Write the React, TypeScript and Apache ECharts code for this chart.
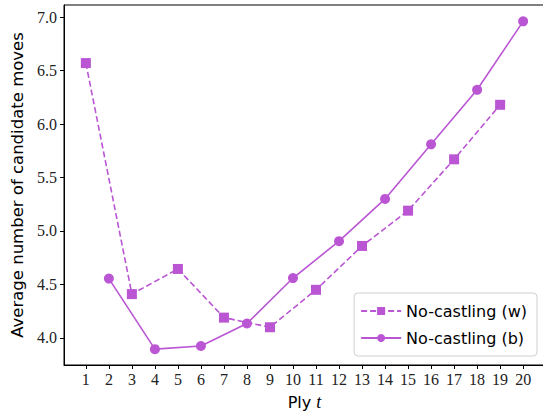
import React, { useEffect, useRef } from "react";
import * as echarts from "echarts";

const plyTicks = [1, 2, 3, 4, 5, 6, 7, 8, 9, 10, 11, 12, 13, 14, 15, 16, 17, 18, 19, 20];
const yTicks = [4.0, 4.5, 5.0, 5.5, 6.0, 6.5, 7.0];
const whitePly = [1, 3, 5, 7, 9, 11, 13, 15, 17, 19];
const whiteValues = [6.57, 4.41, 4.645, 4.19, 4.10, 4.45, 4.86, 5.19, 5.67, 6.18];
const blackPly = [2, 4, 6, 8, 10, 12, 14, 16, 18, 20];
const blackValues = [4.555, 3.895, 3.925, 4.135, 4.56, 4.905, 5.30, 5.81, 6.32, 6.96];

const COLOR = "#BA55D3";

export default function App() {
  const ref = useRef<HTMLDivElement>(null);
  useEffect(() => {
    if (!ref.current) return;
    const chart = echarts.init(ref.current, null, { renderer: "svg" });
    const serif = "Liberation Serif";
    chart.setOption({
      animation: false,
      backgroundColor: "#fff",
      grid: {
        left: 64,
        top: 5,
        right: -2,
        bottom: 52,
        outerBoundsMode: "none",
        containLabel: false,
        show: true,
        borderColor: "#000",
        borderWidth: 1,
        backgroundColor: "transparent",
      },
      xAxis: {
        type: "value",
        min: 0.05,
        max: 20.95,
        name: "{a|Ply }{b|t}",
        nameLocation: "middle",
        nameGap: 28,
        nameTextStyle: {
          rich: {
            a: { fontFamily: "DejaVu Sans", fontSize: 16, color: "#000" },
            b: { fontFamily: serif, fontStyle: "italic", fontSize: 18, color: "#000" },
          },
        },
        axisLine: { onZero: false, lineStyle: { color: "#000", width: 1 } },
        axisTick: { show: true, length: 4, customValues: plyTicks, lineStyle: { color: "#000" } },
        axisLabel: {
          customValues: plyTicks,
          fontFamily: serif,
          fontSize: 16,
          color: "#222",
          margin: 6,
          formatter: (v: number) => String(v),
        },
        splitLine: { show: false },
      },
      yAxis: {
        type: "value",
        min: 3.747,
        max: 7.113,
        name: "Average number of candidate moves",
        nameLocation: "middle",
        nameGap: 37,
        nameTextStyle: { fontFamily: "DejaVu Sans", fontSize: 16.5, color: "#000" },
        axisLine: { onZero: false, lineStyle: { color: "#000", width: 1 } },
        axisTick: { show: true, length: 4, customValues: yTicks, lineStyle: { color: "#000" } },
        axisLabel: {
          customValues: yTicks,
          fontFamily: serif,
          fontSize: 16,
          color: "#222",
          margin: 7,
          formatter: (v: number) => v.toFixed(1),
        },
        splitLine: { show: false },
      },
      legend: {
        right: 6,
        bottom: 61,
        orient: "vertical",
        itemWidth: 40,
        itemHeight: 10,
        itemGap: 11,
        padding: [10, 10, 10, 6],
        borderColor: "#d0d0d0",
        borderWidth: 1,
        borderRadius: 4,
        backgroundColor: "rgba(255,255,255,0.8)",
        textStyle: { fontFamily: "DejaVu Sans", fontSize: 16, color: "#000" },
        data: ["No-castling (w)", "No-castling (b)"],
      },
      series: [
        {
          name: "No-castling (w)",
          type: "line",
          data: whitePly.map((x, i) => [x, whiteValues[i]]),
          symbol: "rect",
          symbolSize: 10,
          lineStyle: { color: COLOR, width: 1.6, type: [6, 3] },
          itemStyle: { color: COLOR },
        },
        {
          name: "No-castling (b)",
          type: "line",
          data: blackPly.map((x, i) => [x, blackValues[i]]),
          symbol: "circle",
          symbolSize: 10,
          lineStyle: { color: COLOR, width: 1.6 },
          itemStyle: { color: COLOR },
        },
      ],
    });
    return () => chart.dispose();
  }, []);
  return (
    <div
      ref={ref}
      style={{ position: "fixed", left: 0, top: 0, width: 543, height: 417 }}
    />
  );
}
